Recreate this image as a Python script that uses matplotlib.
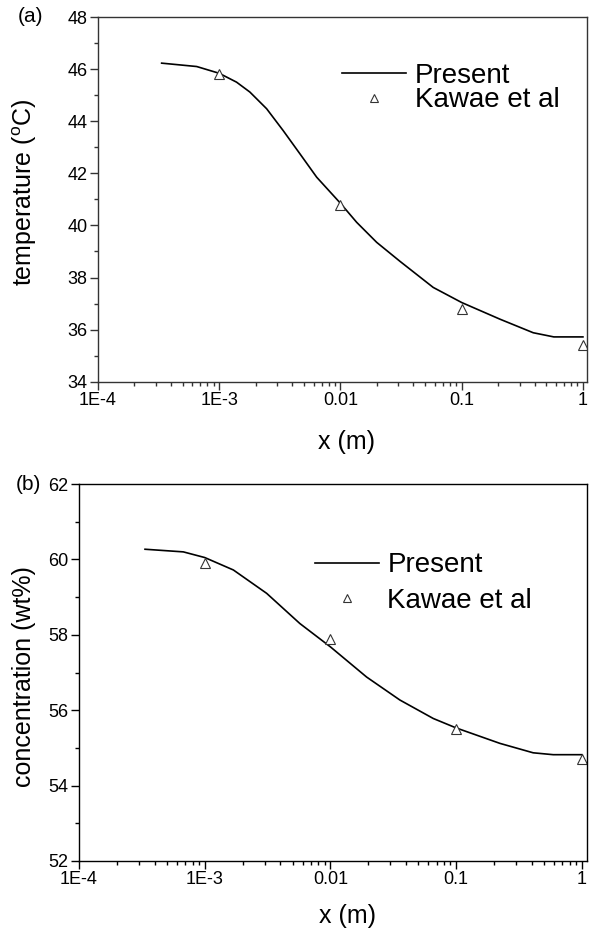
import numpy as np
import matplotlib
matplotlib.use('Agg')
import matplotlib.pyplot as plt
from matplotlib.ticker import LogLocator, MultipleLocator, NullFormatter

plt.rcParams['font.family'] = ['Liberation Sans', 'DejaVu Sans']
plt.rcParams['mathtext.fontset'] = 'custom'
plt.rcParams['mathtext.rm'] = 'Liberation Sans'

# (a) temperature along the film
x_temp = [3.35e-4, 6.52e-4, 1e-3, 1.39e-3, 1.79e-3, 2.46e-3, 3.37e-3, 4.63e-3,
          6.37e-3, 0.01, 0.0136, 0.0199, 0.031, 0.0582, 0.1, 0.207, 0.389,
          0.575, 1.0]
temp_present = [46.23, 46.10, 45.84, 45.50, 45.12, 44.48, 43.64, 42.75,
                41.85, 40.85, 40.12, 39.35, 38.62, 37.62, 37.04, 36.40,
                35.88, 35.72, 35.72]
x_kawae = [1e-3, 0.01, 0.1, 1.0]
temp_kawae = [45.8, 40.8, 36.8, 35.4]

# (b) concentration along the film
x_conc = [3.35e-4, 6.76e-4, 1e-3, 1.69e-3, 3.11e-3, 5.71e-3, 0.01, 0.0194,
          0.0357, 0.0658, 0.1, 0.223, 0.41, 0.592, 1.0]
conc_present = [60.27, 60.20, 60.05, 59.72, 59.10, 58.30, 57.68, 56.88,
                56.27, 55.78, 55.53, 55.12, 54.87, 54.82, 54.82]
conc_kawae = [59.9, 57.9, 55.5, 54.7]

xticks = [1e-4, 1e-3, 1e-2, 1e-1, 1]
xticklabels = ['1E-4', '1E-3', '0.01', '0.1', '1']

fig = plt.figure(figsize=(5.91, 9.31), dpi=100)
ax1 = fig.add_axes([0.1658, 0.590, 0.8274, 0.3917])
ax2 = fig.add_axes([0.1337, 0.0752, 0.8596, 0.4049])


def style_axes(ax, ylim, xmax, spine_color):
    ax.set_xscale('log')
    ax.set_xlim(1e-4, xmax)
    ax.set_ylim(*ylim)
    ax.set_xticks(xticks)
    ax.set_xticklabels(xticklabels)
    ax.xaxis.set_minor_locator(LogLocator(base=10, subs=np.arange(2, 10)))
    ax.xaxis.set_minor_formatter(NullFormatter())
    ax.yaxis.set_major_locator(MultipleLocator(2))
    ax.yaxis.set_minor_locator(MultipleLocator(1))
    for s in ax.spines.values():
        s.set_linewidth(1.0)
        s.set_color(spine_color)
    ax.tick_params(which='both', direction='out', top=False, right=False,
                   labelsize=13, color=spine_color, width=1.0)
    ax.tick_params(which='major', length=5.5, pad=2)
    ax.tick_params(which='minor', length=3)


style_axes(ax1, (34, 48), 1.08, '#333333')
style_axes(ax2, (52, 62), 1.1, 'black')

ax1.plot(x_temp, temp_present, color='black', lw=1.2, label='Present')
ax1.plot(x_kawae, temp_kawae, linestyle='none', marker='^', ms=7,
         mfc='white', mec='#333333', mew=0.8, label='Kawae et al')
ax1.set_ylabel(r'temperature ($^{\rm o}$C)', fontsize=18)
ax1.set_xlabel('x (m)', fontsize=18)
ax1.xaxis.set_label_coords(0.509, -0.133)
ax1.yaxis.set_label_coords(-0.121, 0.52)
ax1.legend(loc='upper left', bbox_to_anchor=(0.50, 0.875), frameon=False,
           fontsize=20, handlelength=2.3, handletextpad=0.3,
           labelspacing=-0.05, borderpad=0, borderaxespad=0, markerscale=0.8)

ax2.plot(x_conc, conc_present, color='black', lw=1.2, label='Present')
ax2.plot(x_kawae, conc_kawae, linestyle='none', marker='^', ms=7,
         mfc='white', mec='#333333', mew=0.8, label='Kawae et al')
ax2.set_ylabel('concentration (wt%)', fontsize=18)
ax2.set_xlabel('x (m)', fontsize=18)
ax2.xaxis.set_label_coords(0.528, -0.113)
ax2.yaxis.set_label_coords(-0.085, 0.49)
ax2.legend(loc='upper left', bbox_to_anchor=(0.465, 0.819), frameon=False,
           fontsize=20, handlelength=2.3, handletextpad=0.3,
           labelspacing=0.35, borderpad=0, borderaxespad=0, markerscale=0.8)

fig.text(18 / 591, 1 - 17 / 931, '(a)', fontsize=15, va='center', ha='left')
fig.text(16 / 591, 1 - 485 / 931, '(b)', fontsize=15, va='center', ha='left')

fig.savefig('out.png', dpi=100)
